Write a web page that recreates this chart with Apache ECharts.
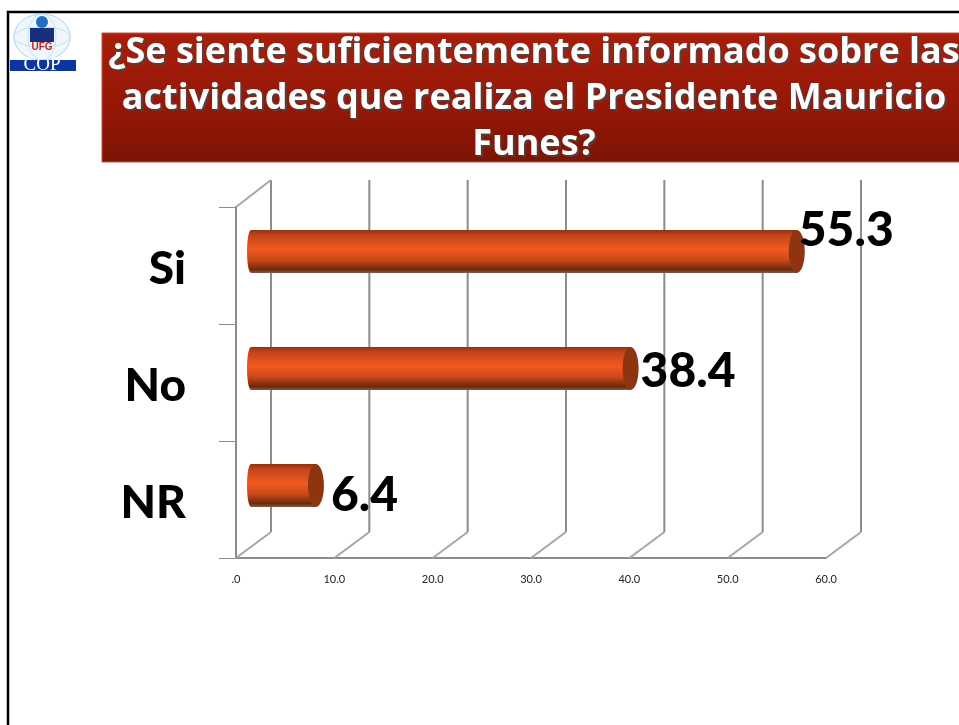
<!DOCTYPE html>
<html><head><meta charset="utf-8">
<style>html,body{margin:0;padding:0;background:#fff}#c{width:959px;height:725px}</style>
<script src="https://cdn.jsdelivr.net/npm/echarts@6/dist/echarts.min.js"></script>
</head><body><div id="c"></div>
<script>
const categories = ['Si', 'No', 'NR'];
const values = [55.3, 38.4, 6.4];
const ticks = [0, 10, 20, 30, 40, 50, 60];
const titleLines = ['¿Se siente suficientemente informado sobre las', 'actividades que realiza el Presidente Mauricio', 'Funes?'];

const FONT = 'Lato';
const wallDX = 35, wallDY = -26, wallTop = 180;
const barDX = 15, barEndDX = 17, barDY = -14, barH = 43, capRx = 8;
const labelShift = [[-6, -21], [2, 3], [7, 10]];
const grey = '#8c8c8c';

const barGrad = {type:'linear',x:0,y:0,x2:0,y2:1,colorStops:[
  {offset:0,color:'#8f3210'},{offset:0.12,color:'#c2451a'},{offset:0.45,color:'#f25a20'},
  {offset:0.7,color:'#c9481a'},{offset:0.92,color:'#6e2809'},{offset:1,color:'#85584a'}]};

const chart = echarts.init(document.getElementById('c'), null, {renderer:'canvas'});
chart.setOption({
  animation:false,
  backgroundColor:'#fff',
  grid:{left:236,width:590,top:207,height:351},
  xAxis:{type:'value',min:0,max:60,interval:10,
    axisLine:{show:true,lineStyle:{color:grey,width:2}},
    axisTick:{show:false},splitLine:{show:false},
    axisLabel:{margin:16,fontFamily:FONT,fontSize:11,color:'#222',
      formatter:v=>v===0?'.0':v.toFixed(1)}},
  yAxis:{type:'category',inverse:true,data:categories,
    axisLine:{show:true,lineStyle:{color:grey,width:2}},
    axisTick:{show:true,length:17,lineStyle:{color:grey,width:1}},
    axisLabel:{margin:50,fontFamily:FONT,fontWeight:900,fontSize:46,color:'#000',verticalAlign:'top',lineHeight:8}},
  series:[
    {type:'custom',coordinateSystem:'cartesian2d',z:1,silent:true,
     data:ticks.map(t=>[t,0]),encode:{x:0,y:1},clip:false,
     renderItem(p,api){
       const x=api.coord([api.value(0),0])[0], y0=558;
       const st={stroke:grey,lineWidth:2,fill:null};
       const st2={stroke:'#a6a6a6',lineWidth:2,fill:null};
       const kids=[
         {type:'line',shape:{x1:x,y1:y0,x2:x+wallDX,y2:y0+wallDY},style:st2},
         {type:'line',shape:{x1:x+wallDX,y1:y0+wallDY,x2:x+wallDX,y2:wallTop},style:st}];
       if(p.dataIndex===0) kids.push({type:'line',shape:{x1:x,y1:207,x2:x+wallDX,y2:wallTop},style:st2});
       return {type:'group',children:kids};
     }},
    {type:'custom',coordinateSystem:'cartesian2d',z:3,silent:true,clip:false,
     data:values.map((v,i)=>[v,i]),encode:{x:0,y:1},
     renderItem(p,api){
       const v=api.value(0), i=api.value(1);
       const a=api.coord([0,i]), b=api.coord([v,i]);
       const x0=a[0]+barDX, x1=b[0]+barEndDX, cy=a[1]+barDY, t=cy-barH/2;
       const s=labelShift[p.dataIndex];
       return {type:'group',children:[
         {type:'ellipse',shape:{cx:x0,cy,rx:4,ry:barH/2},style:{fill:barGrad}},
         {type:'rect',shape:{x:x0,y:t,width:x1-x0,height:barH},style:{fill:barGrad}},
         {type:'ellipse',shape:{cx:x1,cy,rx:capRx,ry:barH/2},style:{fill:'#8e3510'}},
         {type:'text',style:{x:x1+capRx+s[0],y:cy+s[1],text:v.toFixed(1),fontFamily:FONT,fontWeight:900,fontSize:48,fill:'#000',textAlign:'left',textVerticalAlign:'middle'}}
       ]};
     }}
  ],
  graphic:[
    {type:'rect',z:10,shape:{x:8,y:12,width:960,height:720},style:{fill:null,stroke:'#000',lineWidth:2.5}},
    {type:'rect',z:10,shape:{x:102,y:33,width:870,height:129},
     style:{fill:{type:'linear',x:0,y:0,x2:0,y2:1,colorStops:[{offset:0,color:'#a81f0b'},{offset:0.55,color:'#961707'},{offset:1,color:'#7d1404'}]},stroke:'#b5574a',lineWidth:1}},
    ...titleLines.map((t,i)=>({type:'text',z:11,style:{x:534,y:53+i*46,text:t,fontFamily:'Open Sans',fontWeight:'bold',fontSize:36,fill:'#fff',textAlign:'center',textVerticalAlign:'middle',textShadowColor:'rgba(70,70,70,0.85)',textShadowBlur:1,textShadowOffsetX:2,textShadowOffsetY:2}})),
    {type:'ellipse',z:11,shape:{cx:42,cy:37,rx:28,ry:23},style:{fill:'#f0f7fc',stroke:'#a9d4ee',lineWidth:1}},
    {type:'ellipse',z:11,shape:{cx:42,cy:37,rx:14,ry:23},style:{fill:null,stroke:'#c4e2f4',lineWidth:1}},
    {type:'ellipse',z:11,shape:{cx:42,cy:37,rx:28,ry:10},style:{fill:null,stroke:'#c4e2f4',lineWidth:1}},
    {type:'circle',z:11,shape:{cx:42,cy:22,r:6},style:{fill:'#1f6fc4'}},
    {type:'rect',z:11,shape:{x:30,y:28,width:24,height:14},style:{fill:'#16307e'}},
    {type:'text',z:11,style:{x:42,y:47,text:'UFG',fontFamily:'Liberation Sans',fontWeight:'bold',fontSize:10,fill:'#c4241c',textAlign:'center',textVerticalAlign:'middle'}},
    {type:'rect',z:11,shape:{x:10,y:60,width:66,height:11},style:{fill:'#0b36a0'}},
    {type:'text',z:12,style:{x:42,y:65,text:'COP',fontFamily:'Liberation Serif',fontSize:19,fill:'#fff',textAlign:'center',textVerticalAlign:'middle'}}
  ]
});
</script></body></html>
